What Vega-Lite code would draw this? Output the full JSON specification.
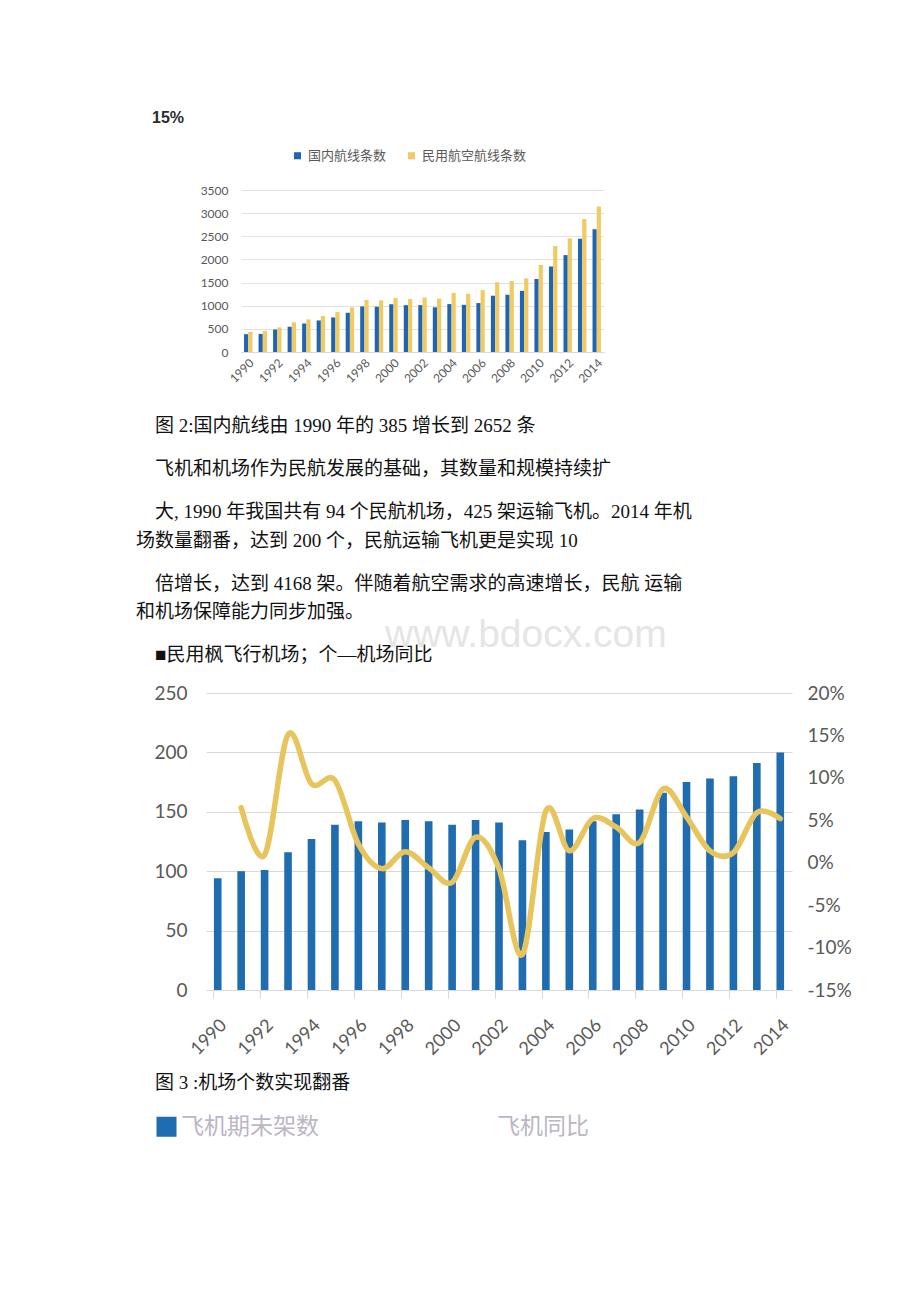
{
  "$schema": "https://vega.github.io/schema/vega-lite/v6.json",
  "background": "white",
  "padding": {"left": 135, "top": 110, "right": 0, "bottom": 0},
  "title": {"text": "15%", "anchor": "start", "frame": "group", "dx": 17, "fontSize": 16, "font": "Liberation Sans", "fontWeight": "bold", "color": "#2b2b2b", "offset": 23},
  "columns": 1,
  "align": "none",
  "bounds": "full",
  "spacing": 18,
  "resolve": {"scale": {"color": "independent"}, "legend": {"color": "independent"}},
  "config": {
    "view": {"stroke": null},
    "axis": {"labelFont": "Lato, Noto Sans CJK SC", "labelColor": "#595959", "domainColor": "#d9d9d9", "gridColor": "#d9d9d9", "tickColor": "#d9d9d9"},
    "legend": {"labelFont": "Lato, Noto Sans CJK SC"}
  },
  "concat": [
    {
      "spacing": 0,
      "title": {"text": "www.bdocx.com", "orient": "bottom", "anchor": "start", "frame": "group", "dx": 250, "offset": -49, "fontSize": 39, "font": "Liberation Sans", "fontWeight": "normal", "color": "#e5e5e5"},
      "hconcat": [
        {"width": 1, "height": 1, "data": {"values": []}, "mark": {"type": "point"}, "encoding": {}},
        {
          "width": 363,
          "height": 162,
          "data": {"values": [
            {"year": 1990, "series": "国内航线条数", "value": 385}, {"year": 1990, "series": "民用航空航线条数", "value": 437},
            {"year": 1991, "series": "国内航线条数", "value": 390}, {"year": 1991, "series": "民用航空航线条数", "value": 452},
            {"year": 1992, "series": "国内航线条数", "value": 486}, {"year": 1992, "series": "民用航空航线条数", "value": 532},
            {"year": 1993, "series": "国内航线条数", "value": 546}, {"year": 1993, "series": "民用航空航线条数", "value": 639},
            {"year": 1994, "series": "国内航线条数", "value": 614}, {"year": 1994, "series": "民用航空航线条数", "value": 704},
            {"year": 1995, "series": "国内航线条数", "value": 682}, {"year": 1995, "series": "民用航空航线条数", "value": 776},
            {"year": 1996, "series": "国内航线条数", "value": 747}, {"year": 1996, "series": "民用航空航线条数", "value": 862},
            {"year": 1997, "series": "国内航线条数", "value": 848}, {"year": 1997, "series": "民用航空航线条数", "value": 963},
            {"year": 1998, "series": "国内航线条数", "value": 985}, {"year": 1998, "series": "民用航空航线条数", "value": 1122},
            {"year": 1999, "series": "国内航线条数", "value": 978}, {"year": 1999, "series": "民用航空航线条数", "value": 1115},
            {"year": 2000, "series": "国内航线条数", "value": 1032}, {"year": 2000, "series": "民用航空航线条数", "value": 1165},
            {"year": 2001, "series": "国内航线条数", "value": 1012}, {"year": 2001, "series": "民用航空航线条数", "value": 1143},
            {"year": 2002, "series": "国内航线条数", "value": 1012}, {"year": 2002, "series": "民用航空航线条数", "value": 1176},
            {"year": 2003, "series": "国内航线条数", "value": 966}, {"year": 2003, "series": "民用航空航线条数", "value": 1155},
            {"year": 2004, "series": "国内航线条数", "value": 1035}, {"year": 2004, "series": "民用航空航线条数", "value": 1279},
            {"year": 2005, "series": "国内航线条数", "value": 1019}, {"year": 2005, "series": "民用航空航线条数", "value": 1257},
            {"year": 2006, "series": "国内航线条数", "value": 1057}, {"year": 2006, "series": "民用航空航线条数", "value": 1336},
            {"year": 2007, "series": "国内航线条数", "value": 1216}, {"year": 2007, "series": "民用航空航线条数", "value": 1506},
            {"year": 2008, "series": "国内航线条数", "value": 1235}, {"year": 2008, "series": "民用航空航线条数", "value": 1532},
            {"year": 2009, "series": "国内航线条数", "value": 1321}, {"year": 2009, "series": "民用航空航线条数", "value": 1592},
            {"year": 2010, "series": "国内航线条数", "value": 1578}, {"year": 2010, "series": "民用航空航线条数", "value": 1880},
            {"year": 2011, "series": "国内航线条数", "value": 1847}, {"year": 2011, "series": "民用航空航线条数", "value": 2290},
            {"year": 2012, "series": "国内航线条数", "value": 2093}, {"year": 2012, "series": "民用航空航线条数", "value": 2457},
            {"year": 2013, "series": "国内航线条数", "value": 2449}, {"year": 2013, "series": "民用航空航线条数", "value": 2876},
            {"year": 2014, "series": "国内航线条数", "value": 2652}, {"year": 2014, "series": "民用航空航线条数", "value": 3142}
          ]},
          "title": {
            "text": [
              "\u200b\u3000图 2:国内航线由 1990 年的 385 增长到 2652 条", "\u200b", "\u200b",
              "\u200b\u3000飞机和机场作为民航发展的基础，其数量和规模持续扩", "\u200b", "\u200b",
              "\u200b\u3000大, 1990 年我国共有 94 个民航机场，425 架运输飞机。2014 年机", "\u200b",
              "场数量翻番，达到 200 个，民航运输飞机更是实现 10", "\u200b", "\u200b",
              "\u200b\u3000倍增长，达到 4168 架。伴随着航空需求的高速增长，民航 运输", "\u200b",
              "和机场保障能力同步加强。", "\u200b", "\u200b",
              "\u200b\u3000■民用枫飞行机场；个—机场同比"
            ],
            "orient": "bottom", "anchor": "start", "frame": "group", "dx": -105, "offset": 33,
            "fontSize": 19, "lineHeight": 14.3, "font": "Liberation Serif, Noto Sans CJK SC", "fontWeight": "normal", "color": "#111111"
          },
          "mark": {"type": "bar"},
          "encoding": {
            "x": {"field": "year", "type": "ordinal", "scale": {"paddingInner": 0.42, "paddingOuter": 0.21},
              "axis": {"values": [1990, 1992, 1994, 1996, 1998, 2000, 2002, 2004, 2006, 2008, 2010, 2012, 2014], "labelAngle": -45, "labelFontSize": 12, "ticks": false, "title": null, "labelPadding": 5}},
            "xOffset": {"field": "series", "type": "nominal", "sort": ["国内航线条数", "民用航空航线条数"]},
            "y": {"field": "value", "type": "quantitative", "scale": {"domain": [0, 3500]},
              "axis": {"values": [0, 500, 1000, 1500, 2000, 2500, 3000, 3500], "format": "d", "title": null, "domain": false, "ticks": false, "labelPadding": 13, "labelFontSize": 12, "gridColor": "#e2e2e2"}},
            "color": {"field": "series", "type": "nominal", "sort": ["国内航线条数", "民用航空航线条数"],
              "scale": {"domain": ["国内航线条数", "民用航空航线条数"], "range": ["#2064B4", "#F0CA62"]},
              "legend": {"orient": "none", "legendX": 156, "legendY": -41, "direction": "horizontal", "title": null, "symbolType": "square", "symbolSize": 50, "labelFontSize": 13, "labelColor": "#595959", "columnPadding": 18, "labelOffset": 4}}
          }
        }
      ]
    },
    {
      "spacing": 0,
      "hconcat": [
        {"width": 1, "height": 1, "data": {"values": []}, "mark": {"type": "point"}, "encoding": {}},
        {
          "width": 586,
          "height": 297,
          "data": {"values": [
            {"year": 1990, "airports": 94, "growth": null},
            {"year": 1991, "airports": 100, "growth": 0.065},
            {"year": 1992, "airports": 101, "growth": 0.009},
            {"year": 1993, "airports": 116, "growth": 0.151},
            {"year": 1994, "airports": 127, "growth": 0.093},
            {"year": 1995, "airports": 139, "growth": 0.097},
            {"year": 1996, "airports": 142, "growth": 0.022},
            {"year": 1997, "airports": 141, "growth": -0.007},
            {"year": 1998, "airports": 143, "growth": 0.013},
            {"year": 1999, "airports": 142, "growth": -0.006},
            {"year": 2000, "airports": 139, "growth": -0.023},
            {"year": 2001, "airports": 143, "growth": 0.030},
            {"year": 2002, "airports": 141, "growth": -0.007},
            {"year": 2003, "airports": 126, "growth": -0.108},
            {"year": 2004, "airports": 133, "growth": 0.061},
            {"year": 2005, "airports": 135, "growth": 0.014},
            {"year": 2006, "airports": 142, "growth": 0.052},
            {"year": 2007, "airports": 148, "growth": 0.042},
            {"year": 2008, "airports": 152, "growth": 0.024},
            {"year": 2009, "airports": 166, "growth": 0.087},
            {"year": 2010, "airports": 175, "growth": 0.054},
            {"year": 2011, "airports": 178, "growth": 0.014},
            {"year": 2012, "airports": 180, "growth": 0.012},
            {"year": 2013, "airports": 191, "growth": 0.059},
            {"year": 2014, "airports": 200, "growth": 0.052}
          ]},
          "layer": [
            {
              "mark": {"type": "bar"},
              "encoding": {
                "x": {"field": "year", "type": "ordinal", "scale": {"paddingInner": 0.675, "paddingOuter": 0.3375},
                  "axis": {"values": [1990, 1992, 1994, 1996, 1998, 2000, 2002, 2004, 2006, 2008, 2010, 2012, 2014], "bandPosition": 0, "labelAngle": -45, "labelFontSize": 18, "tickSize": 8, "title": null, "labelPadding": 18}},
                "y": {"field": "airports", "type": "quantitative", "scale": {"domain": [0, 250]},
                  "axis": {"values": [0, 50, 100, 150, 200, 250], "title": "x", "titleColor": "#ffffff", "titleX": -70, "titleY": 0, "titleAngle": 0, "titleAlign": "left", "titleBaseline": "middle", "domain": false, "ticks": false, "labelFontSize": 19, "labelPadding": 19}},
                "color": {"datum": "飞机期未架数", "type": "nominal",
                  "scale": {"domain": ["飞机期未架数", "飞机同比"], "range": ["#1F6CB0", "#ffffff"]},
                  "legend": {"orient": "none", "legendX": 20, "legendY": 381, "direction": "horizontal",
                    "title": "图 3 :机场个数实现翻番", "titleFont": "Liberation Serif, Noto Sans CJK SC", "titleFontSize": 19, "titleFontWeight": "normal", "titleColor": "#111111", "titlePadding": 22, "titleLimit": 600,
                    "symbolType": "square", "symbolSize": 400, "symbolStrokeWidth": 0, "labelFont": "Noto Sans CJK SC", "labelFontSize": 23, "labelColor": "#bcb5c6", "labelOffset": 3, "columnPadding": 152, "labelLimit": 400}}
              }
            },
            {
              "mark": {"type": "line", "interpolate": "cardinal", "color": "#E8C55C", "strokeWidth": 5.5, "strokeCap": "round", "strokeJoin": "round"},
              "encoding": {
                "x": {"field": "year", "type": "ordinal"},
                "y": {"field": "growth", "type": "quantitative", "scale": {"domain": [-0.15, 0.2]},
                  "axis": {"orient": "right", "values": [-0.15, -0.1, -0.05, 0, 0.05, 0.1, 0.15, 0.2], "format": ".0%", "labelExpr": "replace(datum.label, '−', '-')", "grid": false, "domain": false, "ticks": false, "title": null, "labelFontSize": 19, "labelPadding": 15}}
              }
            }
          ],
          "resolve": {"scale": {"y": "independent"}}
        }
      ]
    }
  ]
}
